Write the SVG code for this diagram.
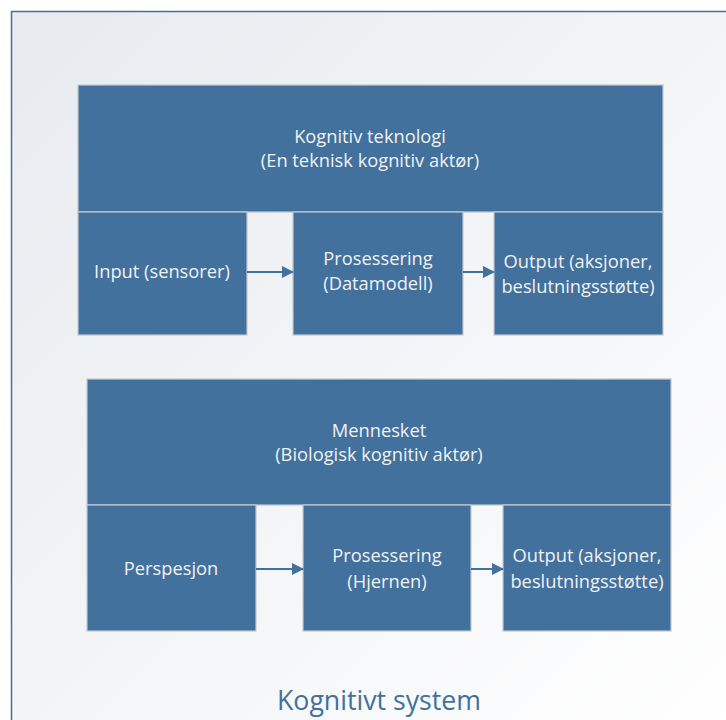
<svg xmlns="http://www.w3.org/2000/svg" width="726" height="720" viewBox="0 0 726 720">
<defs>
<linearGradient id="bg" x1="0" y1="0" x2="1" y2="1">
<stop offset="0" stop-color="#e7eaef"/>
<stop offset="1" stop-color="#ffffff"/>
</linearGradient>
<marker id="ah" markerWidth="12" markerHeight="12" refX="11" refY="6" orient="auto" markerUnits="userSpaceOnUse">
<path d="M0,0 L12,6 L0,12 Z" fill="#41719c"/>
</marker>
<style>
.box{fill:#41719c;stroke:#c3c8ce;stroke-width:1.2}
.t{font-family:"Open Sans",sans-serif;font-size:18.3px;fill:#f2f2f2;text-anchor:middle}
.c{stroke:#41719c;stroke-width:2;fill:none;marker-end:url(#ah)}
</style>
</defs>
<rect x="11.5" y="11.5" width="730" height="730" fill="url(#bg)" stroke="#41719c" stroke-width="1.5"/>
<g id="tech-header"><rect class="box" x="78" y="85" width="585" height="127"/>
<text class="t" x="370" y="143">Kognitiv teknologi</text>
<text class="t" x="370" y="167">(En teknisk kognitiv aktør)</text></g>
<g id="tech-input"><rect class="box" x="78" y="212" width="169" height="123"/>
<text class="t" x="162" y="278">Input (sensorer)</text></g>
<g id="tech-proc"><rect class="box" x="293" y="212" width="170" height="123"/>
<text class="t" x="378" y="265">Prosessering</text>
<text class="t" x="378" y="290">(Datamodell)</text></g>
<g id="tech-output"><rect class="box" x="494" y="212" width="169" height="123"/>
<text class="t" x="578" y="268">Output (aksjoner,</text>
<text class="t" x="578" y="293">beslutningsstøtte)</text></g>
<g id="hum-header"><rect class="box" x="87" y="379" width="584" height="126"/>
<text class="t" x="379" y="437">Mennesket</text>
<text class="t" x="379" y="461">(Biologisk kognitiv aktør)</text></g>
<g id="hum-input"><rect class="box" x="87" y="505" width="169" height="126"/>
<text class="t" x="171" y="575">Perspesjon</text></g>
<g id="hum-proc"><rect class="box" x="303" y="505" width="168" height="126"/>
<text class="t" x="387" y="562">Prosessering</text>
<text class="t" x="387" y="588">(Hjernen)</text></g>
<g id="hum-output"><rect class="box" x="503" y="505" width="168" height="126"/>
<text class="t" x="587" y="562">Output (aksjoner,</text>
<text class="t" x="587" y="588">beslutningsstøtte)</text></g>
<g id="connectors">
<line class="c" x1="247" y1="272" x2="293" y2="272"/>
<line class="c" x1="463" y1="272" x2="494" y2="272"/>
<line class="c" x1="256" y1="569" x2="303" y2="569"/>
<line class="c" x1="471" y1="569" x2="503" y2="569"/>
</g>
<text x="379" y="710" font-family="'Open Sans',sans-serif" font-size="26.7" fill="#41719c" text-anchor="middle">Kognitivt system</text>
</svg>
